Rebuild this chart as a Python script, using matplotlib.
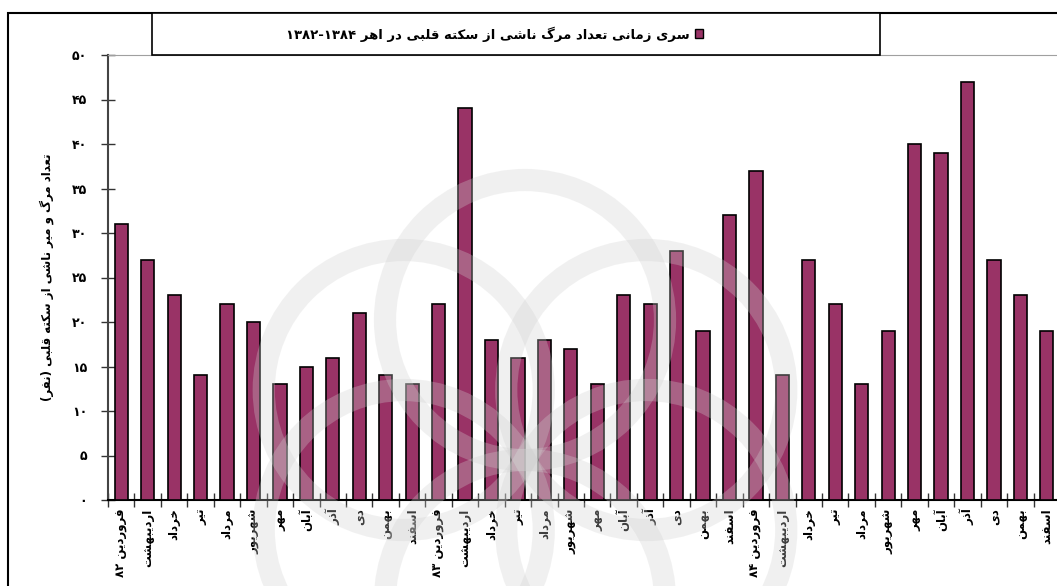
import matplotlib.pyplot as plt
from matplotlib.patches import Rectangle, Circle
from matplotlib.transforms import IdentityTransform
import numpy as np

# داده‌ها: تعداد مرگ ناشی از سکته قلبی به تفکیک ماه
months = ["فروردین ۸۲", "اردیبهشت", "خرداد", "تیر", "مرداد", "شهریور",
          "مهر", "آبان", "آذر", "دی", "بهمن", "اسفند",
          "فروردین ۸۳", "اردیبهشت", "خرداد", "تیر", "مرداد", "شهریور",
          "مهر", "آبان", "آذر", "دی", "بهمن", "اسفند",
          "فروردین ۸۴", "اردیبهشت", "خرداد", "تیر", "مرداد", "شهریور",
          "مهر", "آبان", "آذر", "دی", "بهمن", "اسفند"]
deaths = [31, 27, 23, 14, 22, 20, 13, 15, 16, 21, 14, 13,
          22, 44, 18, 16, 18, 17, 13, 23, 22, 28, 19, 32,
          37, 14, 27, 22, 13, 19, 40, 39, 47, 27, 23, 19]
y_ticks = [0, 5, 10, 15, 20, 25, 30, 35, 40, 45, 50]
title = "سری زمانی تعداد مرگ ناشی از سکته قلبی در اهر ۱۳۸۴-۱۳۸۲"
y_title = "تعداد مرگ و میر ناشی از سکته قلبی (نفر)"

# شکل‌دهی ساده حروف فارسی (matplotlib خودش این کار را نمی‌کند)
DUAL = {
    "ب": "ﺏﺐﺑﺒ", "ت": "ﺕﺖﺗﺘ", "ث": "ﺙﺚﺛﺜ", "ج": "ﺝﺞﺟﺠ", "ح": "ﺡﺢﺣﺤ",
    "خ": "ﺥﺦﺧﺨ", "س": "ﺱﺲﺳﺴ", "ش": "ﺵﺶﺷﺸ", "ص": "ﺹﺺﺻﺼ", "ض": "ﺽﺾﺿﻀ",
    "ط": "ﻁﻂﻃﻄ", "ظ": "ﻅﻆﻇﻈ", "ع": "ﻉﻊﻋﻌ", "غ": "ﻍﻎﻏﻐ", "ف": "ﻑﻒﻓﻔ",
    "ق": "ﻕﻖﻗﻘ", "ل": "ﻝﻞﻟﻠ", "م": "ﻡﻢﻣﻤ", "ن": "ﻥﻦﻧﻨ", "ه": "ﻩﻪﻫﻬ",
    "ی": "ﯼﯽﯾﯿ", "ک": "ﮎﮏﮐﮑ", "گ": "ﮒﮓﮔﮕ", "پ": "ﭖﭗﭘﭙ", "چ": "ﭺﭻﭼﭽ",
}
RIGHT = {"ا": "ﺍﺎ", "آ": "ﺁﺂ", "د": "ﺩﺪ", "ذ": "ﺫﺬ", "ر": "ﺭﺮ",
         "ز": "ﺯﺰ", "ژ": "ﮊﮋ", "و": "ﻭﻮ"}


def shape(s):
    out = []
    for i, c in enumerate(s):
        if c not in DUAL and c not in RIGHT:
            out.append(c)
            continue
        prev = s[i - 1] if i > 0 else ""
        nxt = s[i + 1] if i + 1 < len(s) else ""
        jp = prev in DUAL
        jn = c in DUAL and (nxt in DUAL or nxt in RIGHT)
        if c in RIGHT:
            out.append(RIGHT[c][1] if jp else RIGHT[c][0])
        else:
            f = DUAL[c]
            out.append(f[3] if jp and jn else f[1] if jp else f[2] if jn else f[0])
    vis = "".join(out)[::-1]
    # اعداد چپ به راست می‌مانند
    res, run = "", ""
    for c in vis:
        if "۰" <= c <= "۹" or c.isdigit():
            run += c
        else:
            res += run[::-1] + c
            run = ""
    res += run[::-1]
    return res.translate(str.maketrans("()", ")("))


def fa_num(n):
    return str(n).translate(str.maketrans("0123456789", "۰۱۲۳۴۵۶۷۸۹"))


plt.rcParams['font.family'] = ['DejaVu Sans']
bar_color = "#993366"
W, H = 1057, 586

fig = plt.figure(figsize=(W / 100, H / 100), dpi=100)
ax = fig.add_axes([108 / W, 86 / H, 952 / W, 445 / H])

x = np.arange(len(deaths))
ax.bar(x, deaths, width=0.5, color=bar_color, edgecolor="black", linewidth=1.2, zorder=3)

ax.set_xlim(-0.5, len(deaths) - 0.5)
ax.set_ylim(0, 50)
ax.set_yticks(y_ticks)
ax.set_yticklabels([fa_num(v) for v in y_ticks], fontsize=9, fontweight="bold")
ax.set_xticks(x)
ax.set_xticklabels([shape(m) for m in months], rotation=90, fontsize=8.5, fontweight="bold")
ax.tick_params(axis="x", length=0, pad=6)
ax.set_xticks(np.arange(-0.5, len(deaths), 1), minor=True)
ax.tick_params(axis="x", which="minor", direction="inout", length=10, width=1, color="#333333")
ax.tick_params(axis="y", direction="inout", length=10, width=1, color="#333333", pad=10)

ax.spines["top"].set_color("#a0a0a0")
ax.spines["right"].set_visible(False)
ax.spines["left"].set_color("#444444")
ax.spines["left"].set_linewidth(1.5)
ax.spines["bottom"].set_color("black")
ax.spines["bottom"].set_linewidth(1.5)

ax.set_ylabel(shape(y_title), fontsize=8.5, fontweight="bold", labelpad=13)

# واترمارک کم‌رنگ پس‌زمینه (گل‌واره)
cx, cy, r = 525, 460, 140
for a in np.deg2rad(np.arange(0, 360, 60) + 30):
    fig.patches.append(Circle((cx + r * np.cos(a), H - cy - r * np.sin(a)), r,
                              transform=IdentityTransform(), fill=False, edgecolor="#d0d0d0",
                              linewidth=16, alpha=0.3, zorder=4))

# قاب بیرونی و کادر راهنما
fig.patches.append(Rectangle((8 / W, -0.05), 1.1, 1 - 13 / H + 0.05, transform=fig.transFigure,
                             fill=False, edgecolor="black", linewidth=1.5))
fig.patches.append(Rectangle((152 / W, 1 - 55 / H), 728 / W, 42 / H, transform=fig.transFigure,
                             facecolor="white", edgecolor="black", linewidth=1.2, zorder=5))
fig.patches.append(Rectangle((695 / W, 1 - 38 / H), 8 / W, 9 / H, transform=fig.transFigure,
                             facecolor=bar_color, edgecolor="black", linewidth=1, zorder=6))
fig.text(690 / W, 1 - 34 / H, shape(title), ha="right", va="center",
         fontsize=9.5, fontweight="bold", zorder=6)

fig.savefig("out.png", dpi=100)
